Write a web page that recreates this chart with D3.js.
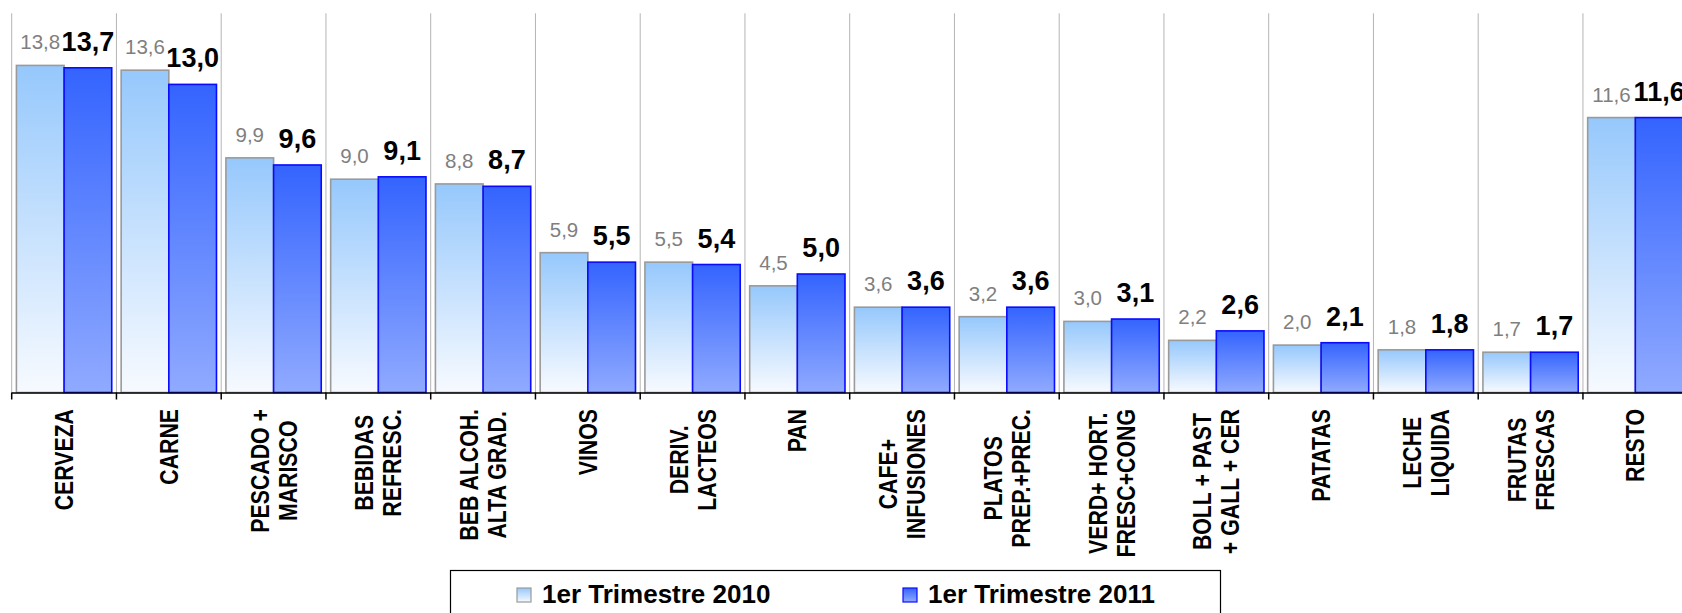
<!DOCTYPE html>
<html>
<head>
<meta charset="utf-8">
<script src="https://cdn.jsdelivr.net/npm/d3@7"></script>
<style>
  html, body { margin: 0; padding: 0; background: #fff; }
  svg { display: block; font-family: "Liberation Sans", Arial, sans-serif; }
</style>
</head>
<body>
<div id="chart"></div>
<script>
// categories (lines of each rotated label)
var categories = [
    ["CERVEZA"],
    ["CARNE"],
    ["PESCADO +", "MARISCO"],
    ["BEBIDAS", "REFRESC."],
    ["BEB ALCOH.", "ALTA GRAD."],
    ["VINOS"],
    ["DERIV.", "LACTEOS"],
    ["PAN"],
    ["CAFE+", "INFUSIONES"],
    ["PLATOS", "PREP.+PREC."],
    ["VERD+ HORT.", "FRESC+CONG"],
    ["BOLL + PAST", "+ GALL + CER"],
    ["PATATAS"],
    ["LECHE", "LIQUIDA"],
    ["FRUTAS", "FRESCAS"],
    ["RESTO"]
];
var seriesNames = ["1er Trimestre 2010", "1er Trimestre 2011"];
var values2010 = [13.8, 13.6, 9.9, 9.0, 8.8, 5.9, 5.5, 4.5, 3.6, 3.2, 3.0, 2.2, 2.0, 1.8, 1.7, 11.6];
var values2011 = [13.7, 13.0, 9.6, 9.1, 8.7, 5.5, 5.4, 5.0, 3.6, 3.6, 3.1, 2.6, 2.1, 1.8, 1.7, 11.6];

var width = 1682;
var height = 613;

var keys = categories.map(function(d) { return d.join(" "); });

var svg = d3.select("#chart")
    .append("svg")
    .attr("width", width)
    .attr("height", height);

// gradients for bars and legend markers
var defs = svg.append("defs");
function gradient(id, top, bottom) {
    var g = defs.append("linearGradient")
        .attr("id", id)
        .attr("x1", 0).attr("y1", 0).attr("x2", 0).attr("y2", 1);
    g.append("stop").attr("offset", "0%").attr("stop-color", top);
    g.append("stop").attr("offset", "100%").attr("stop-color", bottom);
}
gradient("g2010", "#96c8fc", "#f7faff");
gradient("g2011", "#3464fe", "#90aaff");

var step = 104.75;
var x0 = 11.7;
var x = d3.scaleBand()
    .domain(keys)
    .range([x0, x0 + step * keys.length])
    .paddingInner(0.09)
    .paddingOuter(0.045);

var xSub = d3.scaleBand()
    .domain([0, 1])
    .range([0, x.bandwidth()]);

var y = d3.scaleLinear()
    .domain([0, 16])
    .range([392.5, 13.3]);

var boundaries = d3.range(keys.length + 1).map(function(i) { return x.range()[0] + i * x.step(); });

// vertical gridlines between categories
svg.append("g")
    .selectAll("line")
    .data(boundaries)
    .enter()
    .append("line")
    .attr("x1", function(d) { return d; })
    .attr("x2", function(d) { return d; })
    .attr("y1", y(16))
    .attr("y2", y(0))
    .attr("stroke", "#b4b4b4")
    .attr("stroke-width", 1);

var fmt = function(v) { return d3.format(".1f")(v).replace(".", ","); };

var data = keys.map(function(k, i) {
    return { key: k, vals: [values2010[i], values2011[i]] };
});

var groups = svg.append("g")
    .selectAll("g")
    .data(data)
    .enter()
    .append("g")
    .attr("transform", function(d) { return "translate(" + x(d.key) + ",0)"; });

groups.selectAll("rect")
    .data(function(d) { return d.vals.map(function(v, j) { return { v: v, j: j }; }); })
    .enter()
    .append("rect")
    .attr("x", function(d) { return xSub(d.j); })
    .attr("y", function(d) { return y(d.v); })
    .attr("width", xSub.bandwidth())
    .attr("height", function(d) { return y(0) - y(d.v); })
    .attr("fill", function(d) { return d.j === 0 ? "url(#g2010)" : "url(#g2011)"; })
    .attr("stroke", function(d) { return d.j === 0 ? "#9a9a9a" : "#0a0aff"; })
    .attr("stroke-width", 1.6);

// value labels
groups.selectAll("text")
    .data(function(d) { return d.vals.map(function(v, j) { return { v: v, j: j }; }); })
    .enter()
    .append("text")
    .attr("x", function(d) { return xSub(d.j) + xSub.bandwidth() / 2; })
    .attr("y", function(d) { return y(d.v) - (d.j === 0 ? 16 : 17); })
    .attr("text-anchor", "middle")
    .style("font-size", function(d) { return d.j === 0 ? "20.5px" : "27px"; })
    .style("font-weight", function(d) { return d.j === 0 ? "normal" : "bold"; })
    .style("fill", function(d) { return d.j === 0 ? "#7f7f7f" : "#000"; })
    .text(function(d) { return fmt(d.v); });

// x axis line and ticks
svg.append("line")
    .attr("x1", x.range()[0])
    .attr("x2", width)
    .attr("y1", y(0) + 0.5)
    .attr("y2", y(0) + 0.5)
    .attr("stroke", "#000")
    .attr("stroke-width", 1.5);

svg.append("g")
    .selectAll("line")
    .data(boundaries)
    .enter()
    .append("line")
    .attr("x1", function(d) { return d; })
    .attr("x2", function(d) { return d; })
    .attr("y1", y(0))
    .attr("y2", y(0) + 7)
    .attr("stroke", "#000")
    .attr("stroke-width", 1.5);

// rotated category labels, lines centred inside their block
var labelTop = 409;
var fs = 21.3, stretch = 1.2, lineGap = 28;
var cap = fs * 0.716;

categories.forEach(function(lines, i) {
    var cx = x(keys[i]) + x.bandwidth() / 2;
    var g = svg.append("g")
        .attr("transform", "translate(" + cx + "," + labelTop + ") rotate(-90) scale(1," + stretch + ")");
    var t = g.append("text")
        .attr("text-anchor", "middle")
        .style("font-size", fs + "px")
        .style("font-weight", "bold")
        .style("fill", "#000");
    var n = lines.length;
    var spans = lines.map(function(ln, k) {
        return t.append("tspan")
            .attr("y", ((k - (n - 1) / 2) * lineGap) / stretch + cap / 2)
            .text(ln);
    });
    var maxLen = d3.max(spans, function(s) { return s.node().getComputedTextLength(); });
    spans.forEach(function(s) { s.attr("x", -maxLen / 2); });
});

// legend
var legend = svg.append("g");
legend.append("rect")
    .attr("x", 450.5)
    .attr("y", 570.5)
    .attr("width", 770)
    .attr("height", 80)
    .attr("fill", "#fff")
    .attr("stroke", "#000")
    .attr("stroke-width", 1.2);

var legendX = [517, 903];
seriesNames.forEach(function(name, j) {
    legend.append("rect")
        .attr("x", legendX[j])
        .attr("y", 588)
        .attr("width", 14)
        .attr("height", 14)
        .attr("fill", j === 0 ? "url(#g2010)" : "url(#g2011)")
        .attr("stroke", j === 0 ? "#9a9a9a" : "#0a0aff")
        .attr("stroke-width", 1.2);
    legend.append("text")
        .attr("x", legendX[j] + 25)
        .attr("y", 603)
        .style("font-size", "26px")
        .style("font-weight", "bold")
        .style("fill", "#000")
        .text(name);
});
</script>
</body>
</html>
